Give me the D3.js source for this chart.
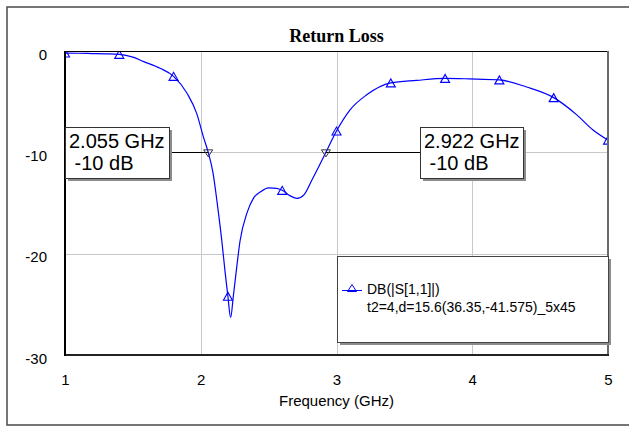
<!DOCTYPE html>
<html>
<head>
<meta charset="utf-8">
<script src="https://cdn.jsdelivr.net/npm/d3@7/dist/d3.min.js"></script>
<style>
  html, body { margin: 0; padding: 0; background: #fff; }
  svg { display: block; }
</style>
</head>
<body>
<script>
// Return loss of the simulated port, S11 in dB versus frequency in GHz
const freqGHz = [1.00, 1.10, 1.20, 1.30, 1.40, 1.50, 1.58, 1.70, 1.80, 1.90, 1.97, 2.02, 2.055,
  2.09, 2.125, 2.155, 2.18, 2.20, 2.22, 2.24, 2.26, 2.29, 2.34, 2.39, 2.44, 2.50, 2.56, 2.60,
  2.66, 2.71, 2.76, 2.82, 2.87, 2.922, 2.965, 3.00, 3.10, 3.22, 3.40, 3.59, 3.80, 3.98, 4.20,
  4.40, 4.60, 4.77, 4.89, 5.00];
const s11dB = [-0.2, -0.22, -0.25, -0.28, -0.33, -0.6, -1.05, -1.7, -2.5, -4.2, -6.15, -8.5, -10,
  -12.0, -15.4, -18.7, -21.9, -24.2, -26.3, -24.2, -21.9, -18.7, -16.0, -14.5, -13.9, -13.5, -13.55, -13.75,
  -14.3, -14.55, -14.2, -12.7, -11.4, -10, -8.8, -7.9, -5.8, -4.35, -3.15, -2.9, -2.7, -2.75, -2.85,
  -3.55, -4.6, -6.3, -7.8, -8.8];

// Symbol positions along the trace
const symbolFreqs = [1.0, 1.4, 1.8, 2.2, 2.6, 3.0, 3.4, 3.8, 4.2, 4.6, 5.0];

// Marker readouts at the -10 dB crossings
const markerFreqs = [2.055, 2.922];
const markerLevels = [-10, -10];
const markerLabels = ["2.055 GHz", "2.922 GHz"];
const markerSubLabels = [" -10 dB", " -10 dB"];

const xTicks = [1, 2, 3, 4, 5];
const yTicks = [0, -10, -20, -30];

const chartTitle = "Return Loss";
const xAxisTitle = "Frequency (GHz)";
const legendName = "DB(|S[1,1]|)";
const legendNote = "t2=4,d=15.6(36.35,-41.575)_5x45";

const W = 629, H = 426;
const plot = { left: 65, right: 608, top: 51, bottom: 355 };
const sans = "'Liberation Sans', Arial, sans-serif";
const serif = "'Liberation Serif', 'Times New Roman', serif";
const traceColor = "#0000ff";

const svg = d3.select("body").append("svg").attr("width", W).attr("height", H);

const x = d3.scaleLinear().domain([1, 5]).range([plot.left, plot.right]);
const y = d3.scaleLinear().domain([-30, 0]).range([plot.bottom, plot.top]);

// Outer frame
svg.append("path")
  .attr("d", `M${W + 2},7 H7 V425 H${W + 2}`)
  .attr("fill", "none").attr("stroke", "#4a4a4a").attr("stroke-width", 1.5);

// Title
svg.append("text")
  .attr("x", (plot.left + plot.right) / 2).attr("y", 42)
  .attr("text-anchor", "middle")
  .attr("font-family", serif).attr("font-weight", "bold").attr("font-size", 18)
  .text(chartTitle);

// Grid
const grid = svg.append("g").attr("stroke", "#c8c8c8").attr("stroke-width", 1);
grid.selectAll("line.gx").data(xTicks.slice(1, -1)).join("line")
  .attr("x1", d => Math.round(x(d)) + 0.5).attr("x2", d => Math.round(x(d)) + 0.5)
  .attr("y1", plot.top).attr("y2", plot.bottom);
grid.selectAll("line.gy").data(yTicks.slice(1, -1)).join("line")
  .attr("y1", d => Math.round(y(d)) + 0.5).attr("y2", d => Math.round(y(d)) + 0.5)
  .attr("x1", plot.left).attr("x2", plot.right);

// Axes: labels only, frame drawn separately; plain hyphen for negatives
const plainNum = d => String(d);
const xAxis = d3.axisBottom(x).tickValues(xTicks).tickFormat(plainNum).tickSize(0).tickPadding(0);
const gx = svg.append("g").attr("transform", `translate(0,${plot.bottom})`).call(xAxis);
gx.select(".domain").remove();
gx.selectAll("text").attr("font-family", sans).attr("font-size", 15).attr("fill", "#000")
  .attr("dy", null).attr("y", 30);

const yAxis = d3.axisLeft(y).tickValues(yTicks).tickFormat(plainNum).tickSize(0).tickPadding(0);
const gy = svg.append("g").attr("transform", `translate(47,0)`).call(yAxis);
gy.select(".domain").remove();
gy.selectAll("text").attr("font-family", sans).attr("font-size", 15).attr("fill", "#000")
  .attr("dy", null).attr("x", 0).attr("y", 8);

svg.append("text")
  .attr("x", (plot.left + plot.right) / 2).attr("y", 406)
  .attr("text-anchor", "middle")
  .attr("font-family", sans).attr("font-size", 15)
  .text(xAxisTitle);

// Clip for the trace
svg.append("clipPath").attr("id", "plotClip")
  .append("rect")
  .attr("x", plot.left).attr("y", plot.top)
  .attr("width", plot.right - plot.left).attr("height", plot.bottom - plot.top);

const series = freqGHz.map((f, i) => ({ f, v: s11dB[i] }));
const line = d3.line().x(d => x(d.f)).y(d => y(d.v)).curve(d3.curveMonotoneX);

const traceG = svg.append("g").attr("clip-path", "url(#plotClip)");
traceG.append("path").datum(series)
  .attr("d", line)
  .attr("fill", "none").attr("stroke", traceColor).attr("stroke-width", 1.2);

const tri = (cx, cy, w, h) =>
  `M${cx - w / 2},${cy + h / 2} L${cx},${cy - h / 2} L${cx + w / 2},${cy + h / 2} Z`;

const symbols = symbolFreqs.map(f => series.find(d => Math.abs(d.f - f) < 1e-9));
traceG.selectAll("path.sym").data(symbols).join("path")
  .attr("class", "sym")
  .attr("d", d => tri(x(d.f), y(d.v), 9, 8))
  .attr("fill", "none").attr("stroke", traceColor).attr("stroke-width", 1.1);

// Plot frame
svg.append("line").attr("x1", plot.left).attr("x2", plot.right)
  .attr("y1", plot.top + 0.5).attr("y2", plot.top + 0.5)
  .attr("stroke", "#000").attr("stroke-width", 1);
svg.append("line").attr("x1", plot.right).attr("x2", plot.right)
  .attr("y1", plot.top).attr("y2", plot.bottom + 1)
  .attr("stroke", "#6a6a6a").attr("stroke-width", 2);
svg.append("line").attr("x1", plot.left).attr("x2", plot.right + 1)
  .attr("y1", plot.bottom).attr("y2", plot.bottom)
  .attr("stroke", "#222").attr("stroke-width", 2);
svg.append("line").attr("x1", plot.left).attr("x2", plot.left)
  .attr("y1", plot.top).attr("y2", plot.bottom + 1)
  .attr("stroke", "#000").attr("stroke-width", 2);

// Marker readouts
const boxes = [
  { x0: 65, y0: 127, w: 104, h: 51, side: "right" },
  { x0: 420, y0: 127, w: 103, h: 51, side: "left" }
];
markerFreqs.forEach((f, i) => {
  const b = boxes[i];
  const px = x(f), py = y(markerLevels[i]);
  const g = svg.append("g");
  const attachX = b.side === "right" ? b.x0 + b.w : b.x0;
  g.append("line")
    .attr("x1", attachX).attr("x2", px)
    .attr("y1", Math.round(py) + 0.5).attr("y2", Math.round(py) + 0.5)
    .attr("stroke", "#000").attr("stroke-width", 1);
  g.append("path")
    .attr("d", `M${px - 4.5},${py - 2.5} L${px + 4.5},${py - 2.5} L${px},${py + 4.5} Z`)
    .attr("fill", "none").attr("stroke", "#333").attr("stroke-width", 1);
  g.append("rect")
    .attr("x", b.x0 + 3).attr("y", b.y0 + 3).attr("width", b.w).attr("height", b.h)
    .attr("fill", "#8c8c8c");
  g.append("rect")
    .attr("x", b.x0 + 0.5).attr("y", b.y0 + 0.5).attr("width", b.w).attr("height", b.h)
    .attr("fill", "#fff").attr("stroke", "#333").attr("stroke-width", 1);
  g.append("text")
    .attr("x", b.x0 + 4).attr("y", b.y0 + 21)
    .attr("font-family", sans).attr("font-size", 20)
    .attr("xml:space", "preserve").style("white-space", "pre")
    .text(markerLabels[i]);
  g.append("text")
    .attr("x", b.x0 + 4).attr("y", b.y0 + 43)
    .attr("font-family", sans).attr("font-size", 20)
    .attr("xml:space", "preserve").style("white-space", "pre")
    .text(markerSubLabels[i]);
});

// Legend
const lg = { x0: 337, y0: 256, w: 271, h: 86 };
const legend = svg.append("g");
legend.append("rect")
  .attr("x", lg.x0 + 3).attr("y", lg.y0 + 3).attr("width", lg.w).attr("height", lg.h)
  .attr("fill", "#8c8c8c");
legend.append("rect")
  .attr("x", lg.x0 + 0.5).attr("y", lg.y0 + 0.5).attr("width", lg.w).attr("height", lg.h)
  .attr("fill", "#fff").attr("stroke", "#444").attr("stroke-width", 1);
legend.append("line")
  .attr("x1", 342).attr("x2", 362).attr("y1", 290.5).attr("y2", 290.5)
  .attr("stroke", traceColor).attr("stroke-width", 1);
legend.append("path")
  .attr("d", tri(352, 288, 9, 7))
  .attr("fill", "none").attr("stroke", traceColor).attr("stroke-width", 1);
legend.append("text")
  .attr("x", 367).attr("y", 294)
  .attr("font-family", sans).attr("font-size", 14)
  .text(legendName);
legend.append("text")
  .attr("x", 367).attr("y", 312)
  .attr("font-family", sans).attr("font-size", 14)
  .text(legendNote);
</script>
</body>
</html>
